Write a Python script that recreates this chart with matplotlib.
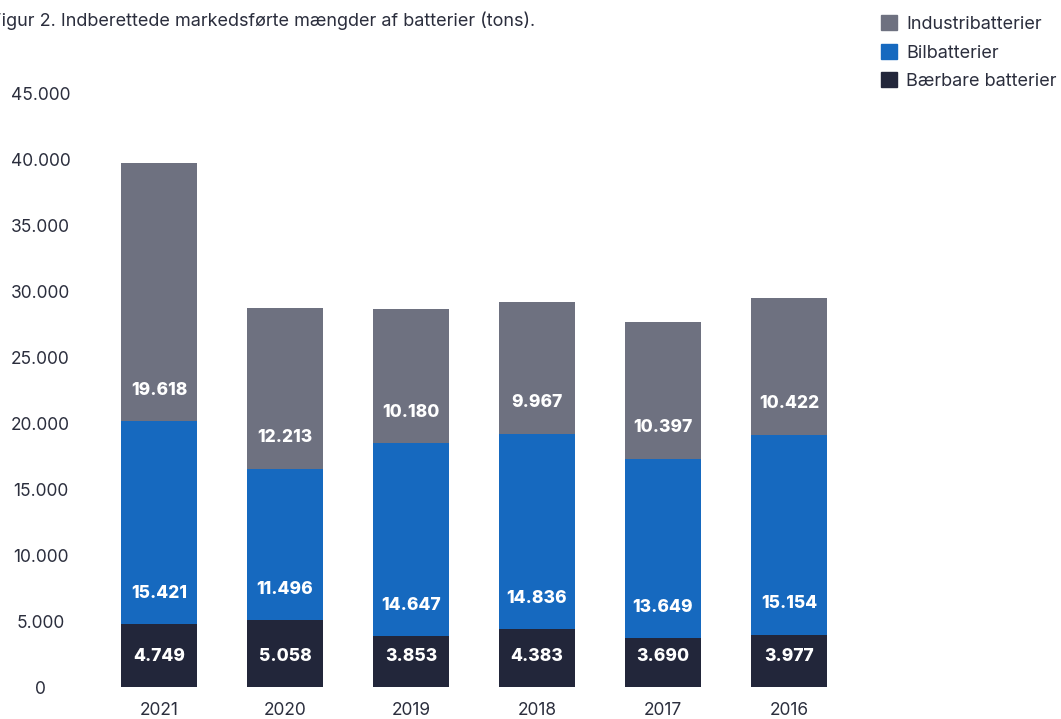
import matplotlib
matplotlib.use("Agg")
import matplotlib.pyplot as plt
from matplotlib.patches import Patch
import numpy as np

plt.rcParams["font.family"] = ["Inter", "DejaVu Sans"]

# --- data (tons) ---
years = ["2021", "2020", "2019", "2018", "2017", "2016"]
baerbare = [4749, 5058, 3853, 4383, 3690, 3977]
bil = [15421, 11496, 14647, 14836, 13649, 15154]
industri = [19618, 12213, 10180, 9967, 10397, 10422]
y_ticks = [0, 5000, 10000, 15000, 20000, 25000, 30000, 35000, 40000, 45000]

c_baer = "#22263a"
c_bil = "#1669bf"
c_ind = "#6e7180"
text_col = "#2b2e3d"


def fmt(v):
    return f"{v:,}".replace(",", ".")


fig = plt.figure(figsize=(10.61, 7.19), dpi=100)
ax = fig.add_axes([96 / 1061, 32 / 719, 756 / 1061, 593 / 719])

x = np.arange(len(years))
w = 0.6
b1 = np.array(baerbare)
b2 = b1 + np.array(bil)

ax.bar(x, baerbare, width=w, color=c_baer)
ax.bar(x, bil, width=w, bottom=b1, color=c_bil)
ax.bar(x, industri, width=w, bottom=b2, color=c_ind)

# value labels sit a fixed distance above each segment's base
for i in range(len(years)):
    for base, val in [(0, baerbare[i]), (b1[i], bil[i]), (b2[i], industri[i])]:
        ax.text(x[i], base + 2350, fmt(val), ha="center", va="center",
                color="white", fontsize=12.5, fontweight="heavy")

ax.set_xlim(-0.5, len(years) - 0.5)
ax.set_ylim(0, 45000)
ax.set_xticks(x)
ax.set_xticklabels(years)
ax.set_yticks(y_ticks)
ax.set_yticklabels([fmt(v) for v in y_ticks])
for lab in ax.get_yticklabels():
    lab.set_horizontalalignment("center")
ax.tick_params(axis="y", length=0, pad=40, labelsize=12.5, labelcolor=text_col)
ax.tick_params(axis="x", length=0, pad=11, labelsize=12.5, labelcolor=text_col)
for s in ax.spines.values():
    s.set_visible(False)

fig.text(-9 / 1061, 1 - 12 / 719,
         "Figur 2. Indberettede markedsførte mængder af batterier (tons).",
         ha="left", va="top", fontsize=13, color=text_col)

handles = [Patch(color=c_ind, label="Industribatterier"),
           Patch(color=c_bil, label="Bilbatterier"),
           Patch(color=c_baer, label="Bærbare batterier")]
fig.legend(handles=handles, loc="upper left", bbox_to_anchor=(874 / 1061, 1 - 8 / 719),
           frameon=False, fontsize=13, handlelength=0.9, handleheight=0.9,
           handletextpad=0.5, labelspacing=0.6, labelcolor=text_col, borderaxespad=0)

fig.savefig("out.png", dpi=100)
